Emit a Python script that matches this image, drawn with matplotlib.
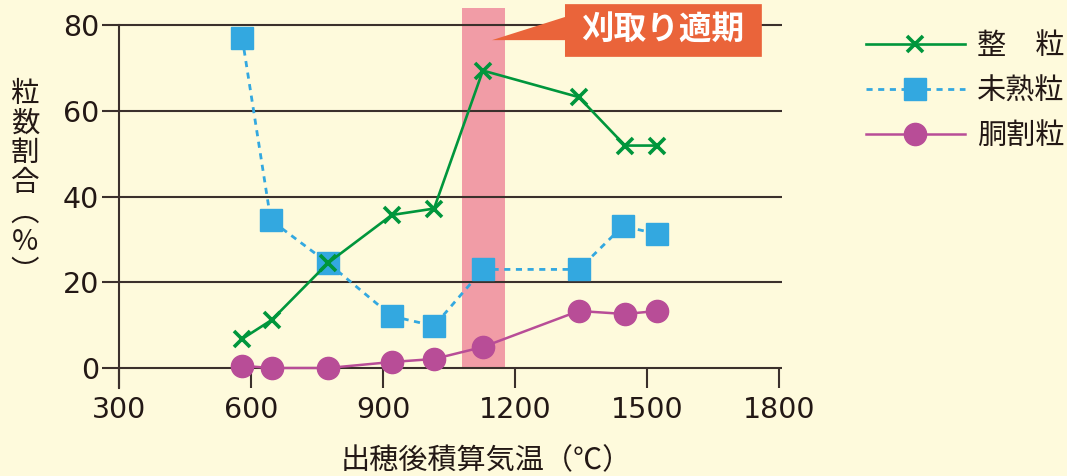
import matplotlib
matplotlib.use("Agg")
import matplotlib.pyplot as plt
from matplotlib.patches import Polygon, Rectangle

plt.rcParams['font.family'] = ['Noto Sans CJK JP', 'DejaVu Sans']

# ---- data ----
x_temp = [580, 647, 775, 920, 1016, 1127, 1345, 1450, 1523]
seiryu = [6.8, 11.2, 24.5, 35.7, 37.2, 69.4, 63.2, 51.9, 51.9]
x_mijuku = [580, 645, 775, 920, 1016, 1127, 1345, 1445, 1523]
mijuku = [77.0, 34.5, 24.5, 12.1, 9.8, 23.0, 23.0, 33.1, 31.3]
dowari = [0.5, 0.0, 0.0, 1.4, 2.1, 4.9, 13.3, 12.6, 13.3]

labels = ['整\u3000粒', '未熟粒', '胴割粒']
xticks = [300, 600, 900, 1200, 1500, 1800]
yticks = [0, 20, 40, 60, 80]
harvest = (1080, 1177)
harvest_label = '刈取り適期'
xlabel = '出穂後積算気温（℃）'
ylabel = '粒数割合（%）'

BG = '#FEFADC'
TXT = '#231815'
GRID = '#3B302C'
GREEN = '#00963C'
BLUE = '#33A8E0'
MAG = '#B84D97'
PINK = '#F19CA6'
ORANGE = '#EA643A'

fig = plt.figure(figsize=(10.67, 4.76), dpi=100, facecolor=BG)
ax = fig.add_axes([119/1067, 88/476, 660/1067, 380/476])
ax.set_facecolor(BG)
ax.set_xlim(300, 1800)
ax.set_ylim(-4.67, 84)

# harvest band
ax.add_patch(Rectangle((harvest[0], 0), harvest[1]-harvest[0], 84,
                       facecolor=PINK, edgecolor='none', zorder=1))

# gridlines (extend to the left of the spine)
ax.hlines(yticks, 261, 1807, colors=GRID, linewidth=1.5, clip_on=False, zorder=2)

# spines
for s in ['top', 'right', 'bottom']:
    ax.spines[s].set_visible(False)
ax.spines['left'].set_color(GRID)
ax.spines['left'].set_linewidth(1.5)
ax.spines['left'].set_bounds(-4.67, 80)

ax.set_xticks(xticks)
ax.set_yticks(yticks)
ax.tick_params(axis='x', direction='in', length=14.4, width=1.5, color=GRID,
               labelsize=20.5, labelcolor=TXT, pad=6)
ax.tick_params(axis='y', length=0, pad=14.4, labelsize=20.5, labelcolor=TXT)
for lab in ax.get_xticklabels() + ax.get_yticklabels():
    lab.set_fontfamily('DejaVu Sans')

# series
ax.plot(x_temp, seiryu, color=GREEN, lw=1.9, marker='x', ms=12, mew=2.6,
        zorder=5, label=labels[0])
ax.plot(x_mijuku, mijuku, color=BLUE, lw=2.0, ls=(0, (2.2, 2.0)), marker='s',
        ms=16.5, mec=BLUE, mfc=BLUE, zorder=4, label=labels[1])
ax.plot(x_temp, dowari, color=MAG, lw=1.8, marker='o', ms=16,
        mec=MAG, mfc=MAG, zorder=3, label=labels[2])

# callout
box = [(1313.6, 84.9), (1761, 84.9), (1761, 72.6), (1313.6, 72.6),
       (1313.6, 76.5), (1147.7, 76.5), (1313.6, 81.9)]
ax.add_patch(Polygon(box, closed=True, facecolor=ORANGE, edgecolor='none',
                     clip_on=False, zorder=6))
ax.text(1536, 78.8, harvest_label, color='white', fontsize=23.5, fontweight='bold',
        ha='center', va='center', zorder=7)

# axis labels
fig.text(486/1067, 1 - 461/476, xlabel, ha='center', va='center',
         fontsize=21, color=TXT)
ylab_chars = '粒\n数\n割\n合\n︵\n%\n︶'
fig.text(25/1067, 1 - 183/476, ylab_chars, ha='center', va='center',
         fontsize=20.5, color=TXT, linespacing=0.98)

# legend
leg = ax.legend(loc='upper left', bbox_to_anchor=(866/1067, 1 - 31/476),
                bbox_transform=fig.transFigure, frameon=False, fontsize=21,
                handlelength=3.39, handletextpad=0.41, labelspacing=0.52,
                borderaxespad=0, borderpad=0)
for t in leg.get_texts():
    t.set_color(TXT)

fig.savefig('out.png', dpi=100, facecolor=BG)
